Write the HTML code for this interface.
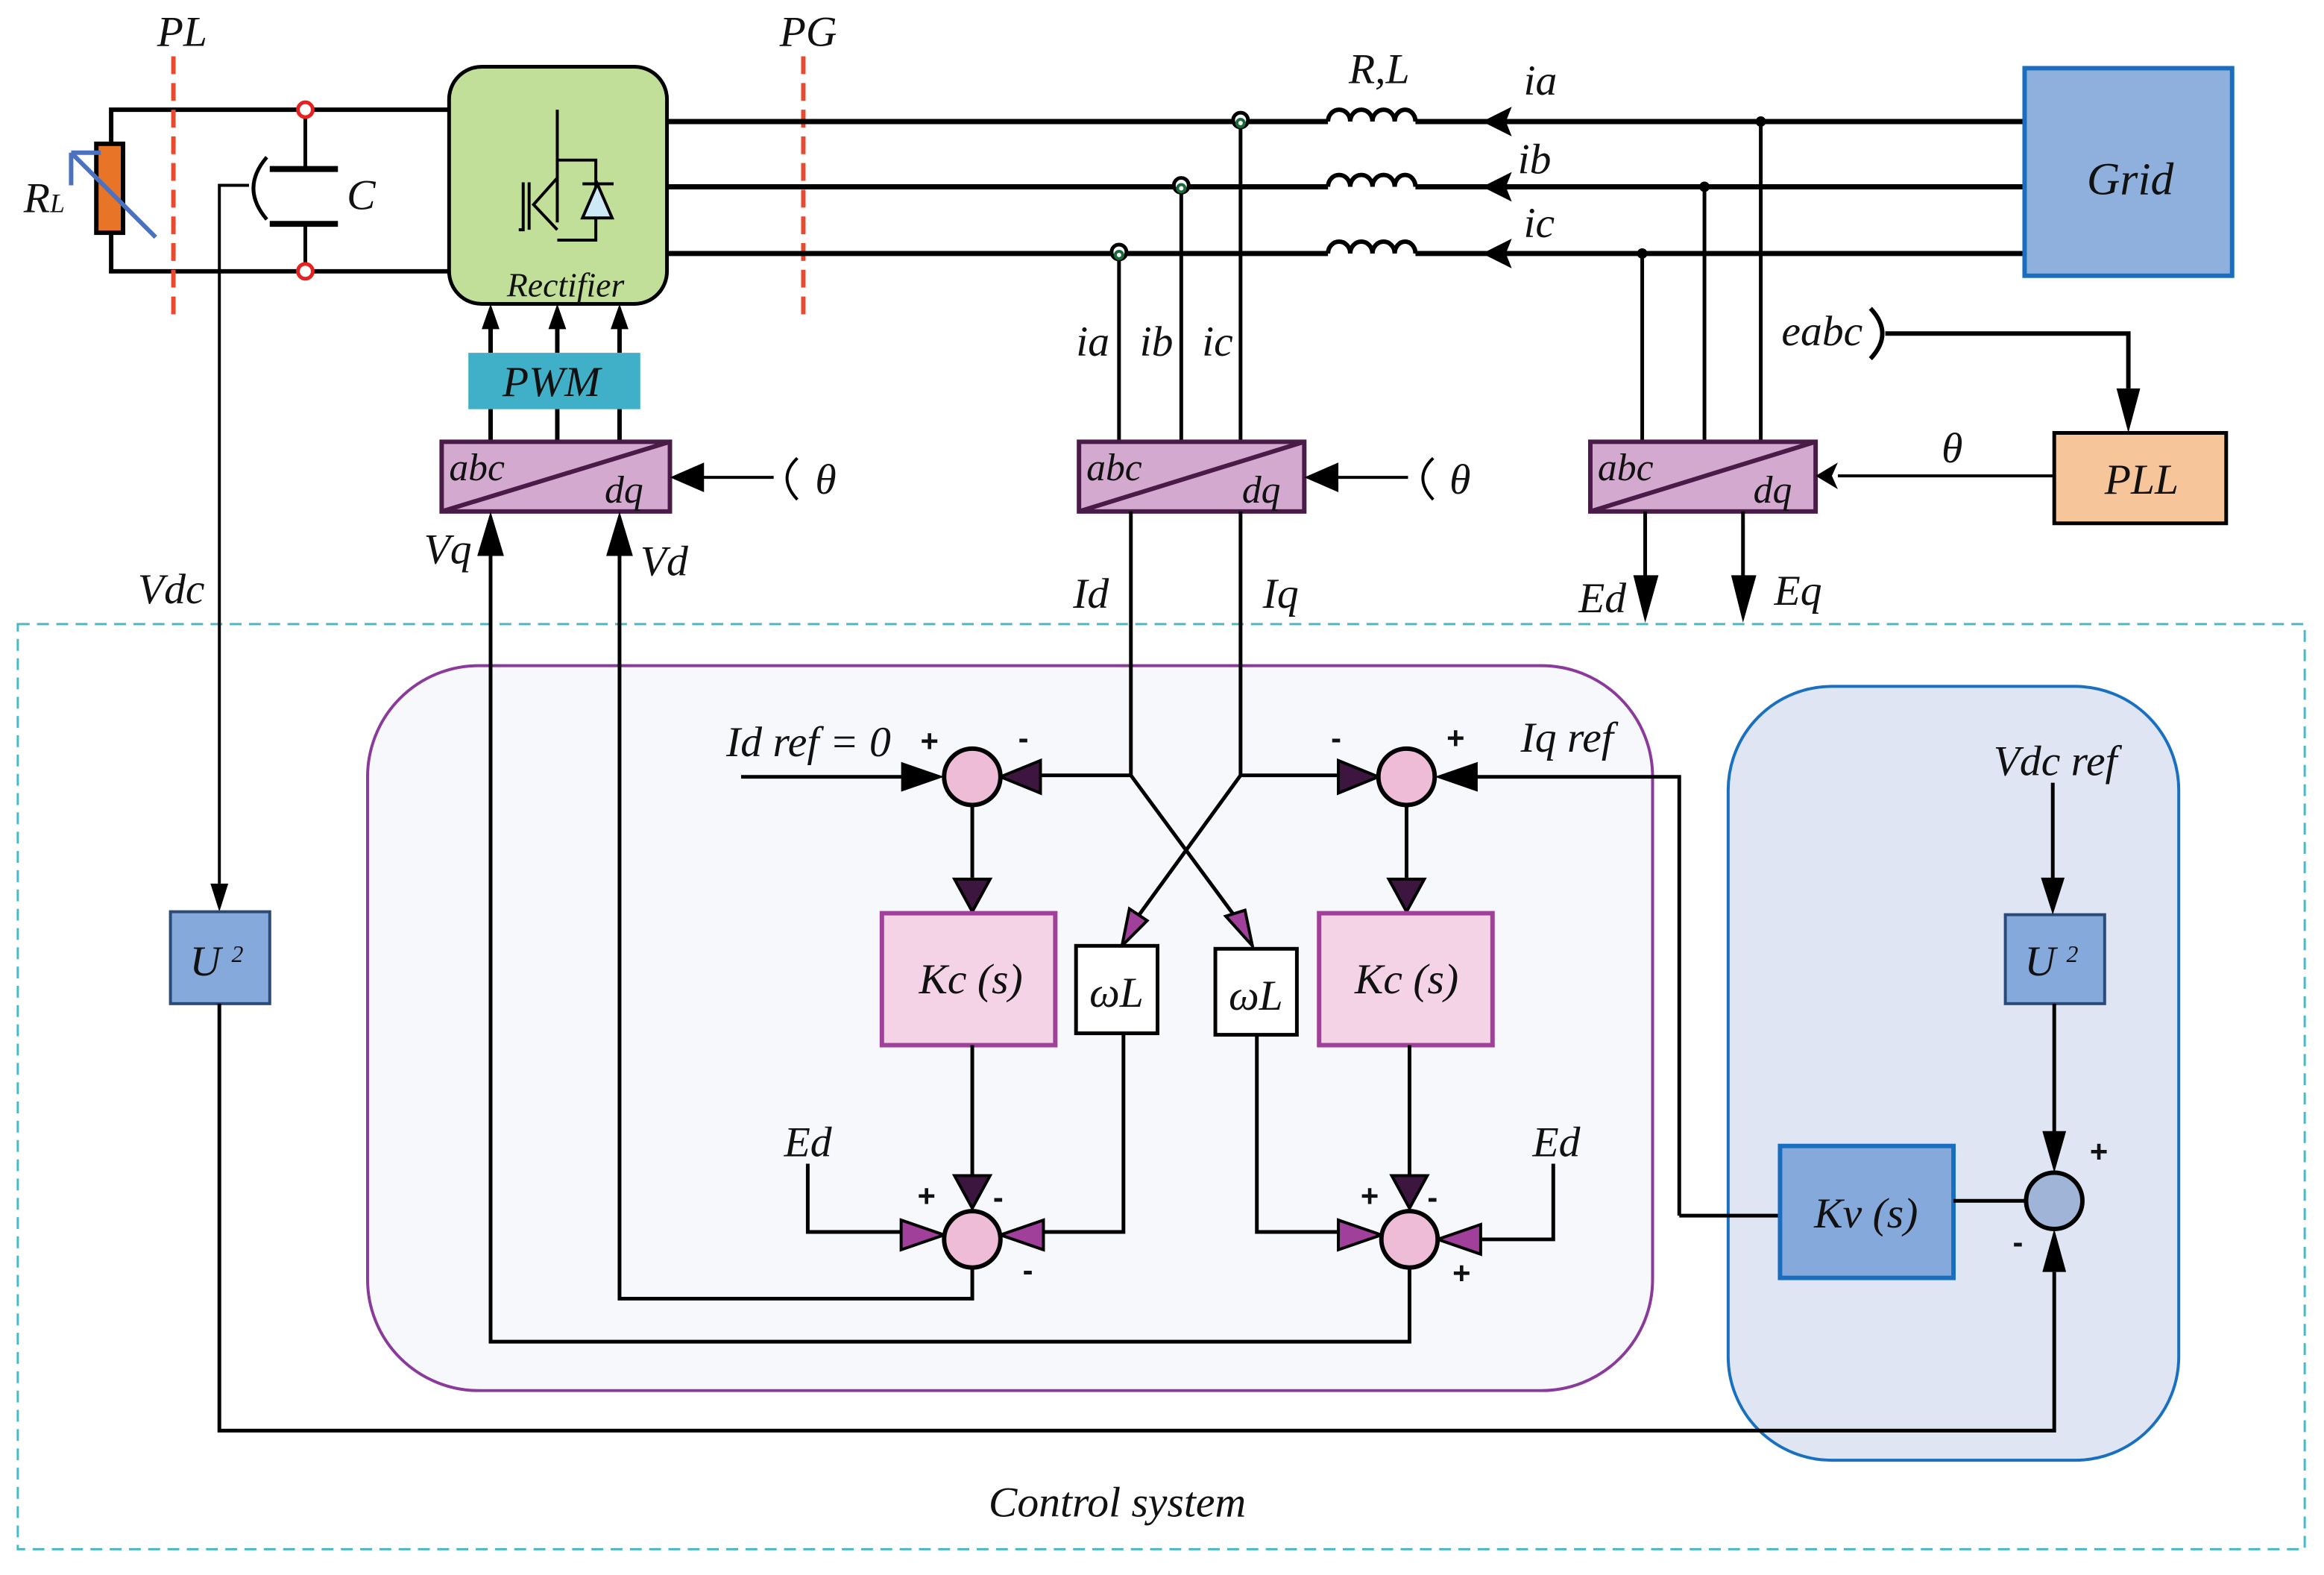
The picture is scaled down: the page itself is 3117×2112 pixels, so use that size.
<!DOCTYPE html>
<html><head><meta charset="utf-8"><style>
html,body{margin:0;padding:0;background:#fff}
svg{display:block}
text{font-family:"Liberation Serif",serif;font-style:italic;fill:#111}
.b{font-family:"Liberation Sans",sans-serif;font-style:normal;font-weight:bold}
</style></head><body>
<svg width="3117" height="2112" viewBox="0 0 1568 1062.4" preserveAspectRatio="none" xmlns="http://www.w3.org/2000/svg">
<g fill="none" stroke="#000" stroke-width="3">
<rect x="12" y="421" width="1543" height="624" stroke="#4bb8c8" stroke-width="1.5" stroke-dasharray="8,5"/>
<rect x="248" y="449" width="867" height="489" rx="75" fill="#f7f8fb" stroke="#8a3a9a" stroke-width="2"/>
<rect x="1166" y="463" width="304" height="522" rx="70" fill="#dfe5f2" stroke="#1a70c0" stroke-width="2"/>

<path d="M303,74 H75 V183 H303"/>
<rect x="65" y="97" width="18" height="60" fill="#e87428" stroke="#000" stroke-width="3"/>
<path d="M105,160 L48,103 M48,103 V125 M48,103 H68" stroke="#4a72c0" stroke-width="3"/>
<path d="M206,79 V114 M206,151 V178" stroke-width="2.5"/>
<path d="M182,114 H228 M182,151 H228" stroke-width="4"/>
<circle cx="206" cy="74" r="5" stroke="#e82020" fill="#fff" stroke-width="2.5"/>
<circle cx="206" cy="183" r="5" stroke="#e82020" fill="#fff" stroke-width="2.5"/>
<path d="M180,106 Q162,127 180,148" stroke-width="2.5"/>
<path d="M168,125 H148 V596" stroke-width="2"/>
<path d="M148,615 L142,596 H154Z" fill="#000" stroke="none"/>
<path d="M117,38 V212" stroke="#e84a30" stroke-width="3" stroke-dasharray="12,6"/>
<path d="M542,38 V212" stroke="#e84a30" stroke-width="3" stroke-dasharray="12,6"/>

<rect x="303" y="45" width="147" height="160" rx="22" fill="#c2df9a" stroke-width="2.5"/>
<path d="M376,74 V150 M376,108 H402 V162 H376 M376,120 L360,138 L376,155 M357,123 V155 M353,123 V155 H350" stroke-width="2"/>
<path d="M393,124 H414 M403,124 L393,147 H413 Z" fill="#cde9f5" stroke-width="2"/>
<path d="M450,82 H896 M955,82 H1366 M450,126 H896 M955,126 H1366 M450,171 H896 M955,171 H1366" stroke-width="3.5"/>
<g stroke-width="3">
<path d="M896,82 a7.5,8 0 0 1 15,0 a7.5,8 0 0 1 15,0 a7.5,8 0 0 1 15,0 a7,8 0 0 1 14,0"/>
<path d="M896,126 a7.5,8 0 0 1 15,0 a7.5,8 0 0 1 15,0 a7.5,8 0 0 1 15,0 a7,8 0 0 1 14,0"/>
<path d="M896,171 a7.5,8 0 0 1 15,0 a7.5,8 0 0 1 15,0 a7.5,8 0 0 1 15,0 a7,8 0 0 1 14,0"/>
</g>
<g fill="#000" stroke="none">
<path d="M1000,82 L1020,72 L1016,82 L1020,92Z"/><path d="M1000,126 L1020,116 L1016,126 L1020,136Z"/><path d="M1000,171 L1020,161 L1016,171 L1020,181Z"/>
<circle cx="1188" cy="82" r="3.5"/><circle cx="1150" cy="126" r="3.5"/><circle cx="1108" cy="171" r="3.5"/>
</g>
<path d="M837,82 V298 M797,126 V298 M755,171 V298" stroke-width="2.5"/>
<circle cx="837" cy="81" r="5" stroke-width="2.5" fill="#fff"/><circle cx="837" cy="83" r="2.5" stroke="#1a6a3a" stroke-width="2" fill="#fff"/>
<circle cx="797" cy="125" r="5" stroke-width="2.5" fill="#fff"/><circle cx="797" cy="127" r="2.5" stroke="#1a6a3a" stroke-width="2" fill="#fff"/>
<circle cx="755" cy="170" r="5" stroke-width="2.5" fill="#fff"/><circle cx="755" cy="172" r="2.5" stroke="#1a6a3a" stroke-width="2" fill="#fff"/>
<path d="M1188,82 V298 M1150,126 V298 M1108,171 V298" stroke-width="2.5"/>
<rect x="1366" y="46" width="140" height="140" fill="#8fb0dc" stroke="#1a6ec0" stroke-width="3"/>

<path d="M331,238 V215 M376,238 V215 M418,238 V215" stroke-width="3"/>
<g fill="#000" stroke="none"><path d="M331,205 L325,222 H337Z"/><path d="M376,205 L370,222 H382Z"/><path d="M418,205 L412,222 H424Z"/></g>
<rect x="316" y="238" width="116" height="38" fill="#3fb0c8" stroke="none"/>
<path d="M331,276 V298 M376,276 V298 M418,276 V298" stroke-width="3"/>
<rect x="298" y="298" width="154" height="47" fill="#d4a9d0" stroke="#4a1a48" stroke-width="3"/>
<path d="M298,345 L452,298" stroke="#4a1a48" stroke-width="3"/>
<rect x="728" y="298" width="152" height="47" fill="#d4a9d0" stroke="#4a1a48" stroke-width="3"/>
<path d="M728,345 L880,298" stroke="#4a1a48" stroke-width="3"/>
<rect x="1073" y="298" width="152" height="47" fill="#d4a9d0" stroke="#4a1a48" stroke-width="3"/>
<path d="M1073,345 L1225,298" stroke="#4a1a48" stroke-width="3"/>
<path d="M522,322 H470 M950,322 H900" stroke-width="2"/>
<g fill="#000" stroke="none"><path d="M452,322 L475,312 V332Z"/><path d="M880,322 L903,312 V332Z"/><path d="M1225,321 L1240,312 L1236,321 L1240,330Z"/></g>
<path d="M538,309 Q524,322 538,337 M967,309 Q953,322 967,337" stroke-width="2"/>
<path d="M1386,321 H1240" stroke-width="2"/>
<path d="M1262,208 Q1278,225 1262,242" stroke-width="3"/>
<path d="M1272,225 H1436 V262" stroke-width="3"/>
<path d="M1436,292 L1428,262 H1444Z" fill="#000" stroke="none"/>
<rect x="1386" y="292" width="116" height="61" fill="#f6c69a" stroke-width="2.5"/>
<path d="M1110,345 V390 M1176,345 V390" stroke-width="2.5"/>
<g fill="#000" stroke="none"><path d="M1110,420 L1102,388 H1119Z"/><path d="M1176,420 L1168,388 H1185Z"/></g>
<path d="M763,345 V523 M837,345 V523" stroke-width="2.5"/>
<path d="M763,523 H700 M837,523 H905" stroke-width="2.5"/>
<path d="M763,523 L836,622 M837,523 L765,622" stroke-width="2.5"/>
<path d="M675,524 L702,513 V535Z" fill="#3d1640" stroke-width="2"/>
<path d="M930,524 L903,513 V535Z" fill="#3d1640" stroke-width="2"/>
<path d="M500,524 H610" stroke-width="2.5"/><path d="M637,524 L608,514 V534Z" fill="#000" stroke="none"/>
<path d="M1133,820 V524 H995" stroke-width="2.5"/><path d="M968,524 L997,514 V534Z" fill="#000" stroke="none"/>
<path d="M1133,820 H1201" stroke-width="2.5"/>
<path d="M845,638 L827,618 L840,614Z" fill="#a0409a" stroke-width="2"/>
<path d="M757,638 L762,613 L774,621Z" fill="#a0409a" stroke-width="2"/>
<circle cx="656" cy="524" r="19" fill="#efbcd8"/>
<circle cx="949" cy="524" r="19" fill="#efbcd8"/>
<path d="M656,543 V592 M949,543 V592" stroke-width="2.5"/>
<path d="M656,615 L644,593 H668Z" fill="#3d1640" stroke-width="2"/>
<path d="M949,615 L937,593 H961Z" fill="#3d1640" stroke-width="2"/>
<rect x="595" y="616" width="117" height="89" fill="#f3d3e5" stroke="#a0409a" stroke-width="3"/>
<rect x="890" y="616" width="117" height="89" fill="#f3d3e5" stroke="#a0409a" stroke-width="3"/>
<rect x="726" y="638" width="55" height="59" fill="#fff" stroke-width="2.5"/>
<rect x="820" y="640" width="55" height="58" fill="#fff" stroke-width="2.5"/>
<path d="M656,705 V794 M951,705 V794" stroke-width="2.5"/>
<path d="M656,815 L644,793 H668Z" fill="#3d1640" stroke-width="2"/>
<path d="M951,815 L939,793 H963Z" fill="#3d1640" stroke-width="2"/>
<path d="M758,697 V831 H700 M545,785 V831 H610 M848,698 V831 H905 M1048,785 V836 H995" stroke-width="2.5"/>
<path d="M637,833 L608,823 V843Z" fill="#a0409a" stroke-width="2"/>
<path d="M675,833 L704,823 V843Z" fill="#a0409a" stroke-width="2"/>
<path d="M932,833 L903,823 V843Z" fill="#a0409a" stroke-width="2"/>
<path d="M970,836 L999,826 V846Z" fill="#a0409a" stroke-width="2"/>
<circle cx="656" cy="836" r="19" fill="#efbcd8"/>
<circle cx="951" cy="836" r="19" fill="#efbcd8"/>
<path d="M656,855 V876 H418 V372 M951,855 V905 H331 V372" stroke-width="2.5"/>
<g fill="#000" stroke="none"><path d="M418,345 L409,375 H427Z"/><path d="M331,345 L322,375 H340Z"/></g>
<rect x="115" y="615" width="67" height="62" fill="#86a9dc" stroke="#2a4a7a" stroke-width="2"/>
<rect x="1353" y="617" width="67" height="60" fill="#86a9dc" stroke="#2a4a7a" stroke-width="2"/>
<path d="M1385,528 V595" stroke-width="2.5"/><path d="M1385,617 L1377,592 H1393Z" fill="#000" stroke="none"/>
<path d="M1386,677 V765" stroke-width="2.5"/><path d="M1386,791 L1378,763 H1394Z" fill="#000" stroke="none"/>
<rect x="1201" y="773" width="117" height="89" fill="#86a9dc" stroke="#1a6ec0" stroke-width="3"/>
<path d="M1318,810 H1367" stroke-width="2.5"/>
<circle cx="1386" cy="810" r="19" fill="#9fb4d6"/>
<path d="M148,677 V965 H1386 V858" stroke-width="2.5"/><path d="M1386,829 L1378,858 H1394Z" fill="#000" stroke="none"/>
</g>
<g font-size="29">
<text x="106" y="31">PL</text><text x="526" y="31">PG</text>
<text x="16" y="143">R<tspan font-size="18">L</tspan></text>
<text x="234" y="141">C</text>
<text x="342" y="200" font-size="23">Rectifier</text>
<text x="339" y="267">PWM</text>
<text x="303" y="324" font-size="26">abc</text><text x="408" y="339" font-size="26">dq</text>
<text x="733" y="324" font-size="26">abc</text><text x="838" y="339" font-size="26">dq</text>
<text x="1078" y="324" font-size="26">abc</text><text x="1183" y="339" font-size="26">dq</text>
<text x="550" y="333">θ</text><text x="978" y="333">θ</text><text x="1310" y="312">θ</text>
<text x="910" y="56">R,L</text>
<text x="1028" y="64">ia</text><text x="1024" y="117">ib</text><text x="1028" y="160">ic</text>
<text x="726" y="240">ia</text><text x="769" y="240">ib</text><text x="811" y="240">ic</text>
<text x="1202" y="233">eabc</text>
<text x="1408" y="131" font-size="31">Grid</text>
<text x="1420" y="333">PLL</text>
<text x="286" y="380">Vq</text><text x="432" y="388">Vd</text>
<text x="93" y="407">Vdc</text>
<text x="724" y="410">Id</text><text x="852" y="410">Iq</text>
<text x="1065" y="413">Ed</text><text x="1197" y="408">Eq</text>
<text x="490" y="510">Id ref = 0</text>
<text x="1026" y="507">Iq ref</text>
<text x="1345" y="523">Vdc ref</text>
<text x="620" y="670">Kc (s)</text><text x="914" y="670">Kc (s)</text>
<text x="735" y="679">ωL</text><text x="829" y="681">ωL</text>
<text x="529" y="780">Ed</text><text x="1034" y="780">Ed</text>
<text x="128" y="658">U <tspan font-size="16" dy="-9">2</tspan></text>
<text x="1366" y="658">U <tspan font-size="16" dy="-9">2</tspan></text>
<text x="1224" y="828">Kv (s)</text>
<text x="667" y="1023">Control system</text>
</g>
<g font-size="21">
<text class="b" x="621" y="507">+</text><text class="b" x="687" y="505">-</text>
<text class="b" x="898" y="505">-</text><text class="b" x="976" y="505">+</text>
<text class="b" x="619" y="814">+</text><text class="b" x="670" y="815">-</text><text class="b" x="690" y="864">-</text>
<text class="b" x="918" y="814">+</text><text class="b" x="963" y="815">-</text><text class="b" x="980" y="866">+</text>
<text class="b" x="1410" y="784">+</text><text class="b" x="1358" y="845">-</text>
</g>
</svg>
</body></html>
